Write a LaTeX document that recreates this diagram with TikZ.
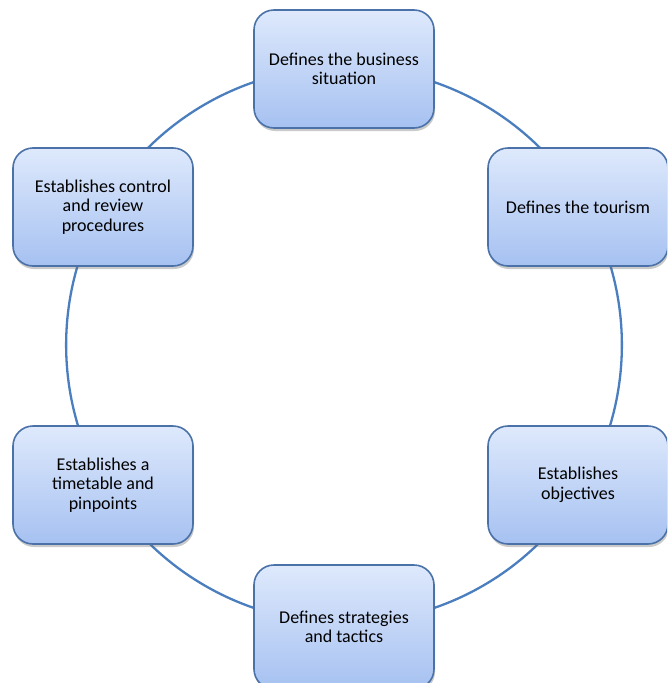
\documentclass[tikz,border=0pt]{standalone}
\usepackage{fontspec}
\setmainfont{Carlito}
\usetikzlibrary{shadows,backgrounds}
\definecolor{ringblue}{HTML}{4A7EBE}
\definecolor{boxedge}{HTML}{4A72A8}
\definecolor{boxtop}{HTML}{DEE9FC}
\definecolor{boxbot}{HTML}{A6C1F1}
\tikzset{
  stagebox/.style={draw=boxedge, line width=1.6pt, rounded corners=20pt,
    top color=boxtop, bottom color=boxbot,
    minimum width=180pt, minimum height=118pt, align=center,
    font=\fontsize{18}{19.5}\selectfont, text=black,
    drop shadow={shadow xshift=1pt, shadow yshift=-3pt, opacity=0.35, fill=black!60}},
  ring/.style={draw=ringblue, line width=2.3pt, bend left=30, looseness=0.912}
}
\begin{document}
\begin{tikzpicture}[x=1pt,y=-1pt]
\useasboundingbox (0,0) rectangle (667,683);
\clip (0,0) rectangle (667,683);
\coordinate (p1) at (344,67);
\coordinate (p2) at (584.8,206);
\coordinate (p3) at (584.8,484);
\coordinate (p4) at (344,623);
\coordinate (p5) at (103.2,484);
\coordinate (p6) at (103.2,206);
\node[stagebox] (s1) at (344,69)  {Defines the business\\situation};
\node[stagebox] (s2) at (578,207) {Defines the tourism};
\node[stagebox] (s3) at (578,485) {Establishes\\objectives};
\node[stagebox, minimum height=124pt] (s4) at (344,627) {Defines strategies\\and tactics};
\node[stagebox] (s5) at (103,485) {Establishes a\\timetable and\\pinpoints};
\node[stagebox] (s6) at (103,207) {Establishes control\\and review\\procedures};
\begin{scope}[on background layer]
\draw[ring] (p1) to (p2);
\draw[ring] (p2) to (p3);
\draw[ring] (p3) to (p4);
\draw[ring] (p4) to (p5);
\draw[ring] (p5) to (p6);
\draw[ring] (p6) to (p1);
\end{scope}
\end{tikzpicture}
\end{document}
